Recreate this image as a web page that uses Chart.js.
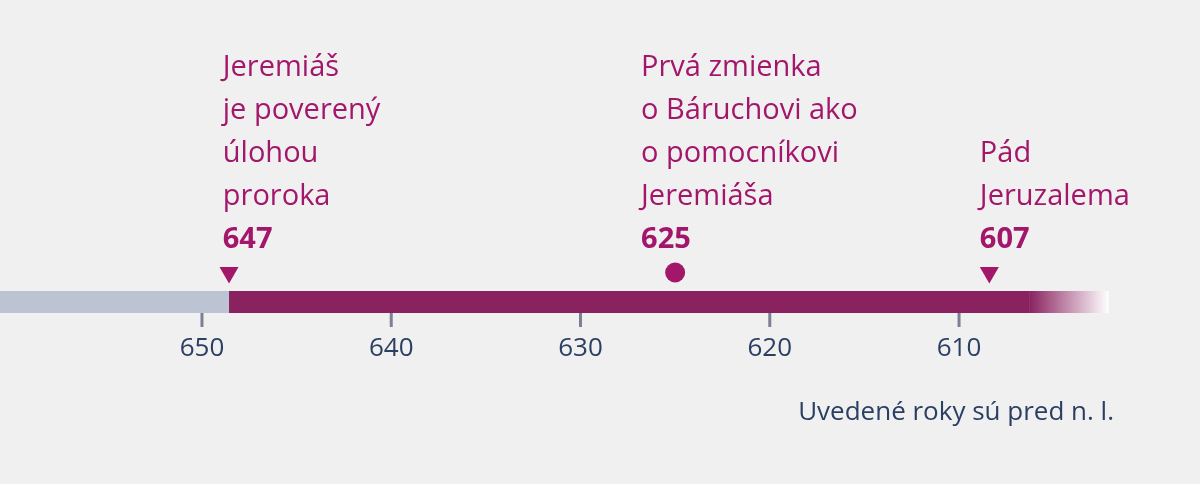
<!DOCTYPE html>
<html><head><meta charset="utf-8">
<script src="https://cdn.jsdelivr.net/npm/chart.js@4"></script>
<style>html,body{margin:0;padding:0;background:#f1f0f1;}#w{width:1200px;height:484px;}</style>
</head><body><div id="w"><canvas id="c"></canvas></div>
<script>
const ticks = [650, 640, 630, 620, 610];
const eventYears = ["647", "625", "607"];
const eventPos = [648.57, 625.0, 608.4];
const eventShapes = ["triangle", "circle", "triangle"];
const eventLabels = [
  ["Jeremiáš", "je poverený", "úlohou", "proroka"],
  ["Prvá zmienka", "o Báruchovi ako", "o pomocníkovi", "Jeremiáša"],
  ["Pád", "Jeruzalema"]
];
const eventLabelX = [648.9, 626.8, 608.9];
const barStart = 661.5, barSplit = 648.57, barSolidEnd = 606.3, barEnd = 602.1;
const note = "Uvedené roky sú pred n. l.";
const crimson = "#a3176a", navy = "#2b3f63";

const timeline = {
  id: "timeline",
  beforeDatasetsDraw(ch) {
    const x = ch.scales.x, c = ch.ctx;
    const y0 = 291, h = 22;
    c.save();
    c.fillStyle = "#bcc3d3";
    c.fillRect(0, y0, x.getPixelForValue(barSplit), h);
    const s = x.getPixelForValue(barSplit), m = x.getPixelForValue(barSolidEnd), e = x.getPixelForValue(barEnd);
    c.fillStyle = "#8a2260";
    c.fillRect(s, y0, m - s, h);
    const g = c.createLinearGradient(m, 0, e, 0);
    g.addColorStop(0, "#8a2260"); g.addColorStop(1, "rgba(255,255,255,1)");
    c.fillStyle = g; c.fillRect(m, y0, e - m, h);
    c.fillStyle = "#7a8190";
    ticks.forEach(t => { const p = x.getPixelForValue(t); c.fillRect(p - 1.5, 313, 3, 14); });
    c.fillStyle = navy; c.font = "26px 'Open Sans'"; c.textAlign = "center"; c.textBaseline = "middle";
    ticks.forEach(t => c.fillText(String(t), x.getPixelForValue(t), 349));
    c.textAlign = "left"; c.textBaseline = "alphabetic";
    eventLabels.forEach((lines, i) => {
      const px = x.getPixelForValue(eventLabelX[i]);
      const n = lines.length;
      c.fillStyle = crimson; c.font = "29px 'Open Sans'";
      lines.forEach((l, j) => c.fillText(l, px, 248 - 43 * (n - j)));
      c.font = "bold 29px 'Open Sans'";
      c.fillText(eventYears[i], px, 248);
    });
    c.fillStyle = navy; c.font = "26px 'Open Sans'"; c.textAlign = "right";
    c.fillText(note, 1114, 420);
    c.restore();
  }
};

new Chart(document.getElementById("c"), {
  type: "scatter",
  data: { datasets: [{
    data: eventPos.map(v => ({ x: v, y: 274 })),
    pointStyle: eventShapes,
    rotation: eventShapes.map(s => s === "triangle" ? 180 : 0),
    radius: eventShapes.map(s => s === "triangle" ? 11 : 10),
    backgroundColor: crimson, borderColor: crimson, borderWidth: 0
  }]},
  options: {
    responsive: true, maintainAspectRatio: false, animation: false,
    layout: { padding: 0 },
    plugins: { legend: { display: false }, tooltip: { enabled: false } },
    scales: {
      x: { type: "linear", min: 597.85, max: 660.09, reverse: true, display: false },
      y: { min: 0, max: 484, reverse: true, display: false }
    }
  },
  plugins: [timeline]
});
</script></body></html>
